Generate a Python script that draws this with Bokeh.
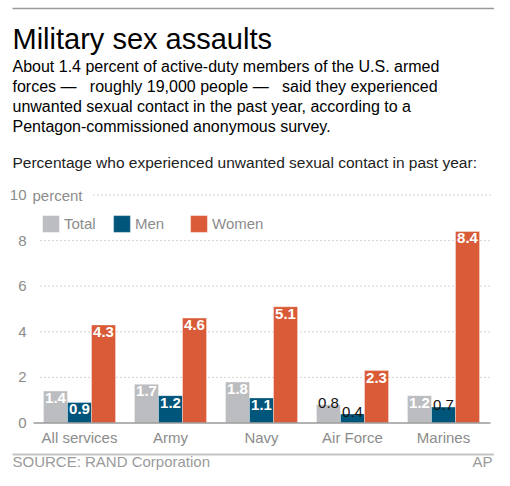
from bokeh.core.properties import value
from bokeh.embed import file_html
from bokeh.models import ColumnDataSource, Label, Legend, LegendItem, Range1d
from bokeh.plotting import figure
from bokeh.resources import INLINE
from bokeh.transform import dodge

# data
services = ["All services", "Army", "Navy", "Air Force", "Marines"]
total = [1.4, 1.7, 1.8, 0.8, 1.2]
men = [0.9, 1.2, 1.1, 0.4, 0.7]
women = [4.3, 4.6, 5.1, 2.3, 8.4]
y_ticks = [0, 2, 4, 6, 8, 10]
y_tick_labels = ["0", "2", "4", "6", "8", "10"]

NB = "\u00a0"
title = "Military sex assaults"
blurb = [
    "About 1.4 percent of active-duty members of the U.S. armed",
    "forces \u2014" + NB * 2 + " roughly 19,000 people \u2014" + NB * 2
    + " said they experienced",
    "unwanted sexual contact in the past year, according to a",
    "Pentagon-commissioned anonymous survey.",
]
subtitle = "Percentage who experienced unwanted sexual contact in past year:"
source_note = "SOURCE: RAND Corporation"

FONT = "Liberation Sans"
GREY_TXT = "#8c8c8c"
W, H = 494, 470

# the frame fills the whole canvas; these fix where the chart sits in it
X0_PX, PX_PER_CAT = 79, 91        # centre of first group, group pitch
Y0_PX, PX_PER_UNIT = 422.5, 22.8  # canvas row of 0 percent (from top), px per point
BAR_W = 0.264
LABEL_NUDGE = 6  # Label draws a little below the asked-for baseline


def cx(px):
    """canvas x pixel -> category units"""
    return (px - X0_PX) / PX_PER_CAT


def cy(px):
    """canvas y pixel (from top) -> percent units"""
    return (Y0_PX - px) / PX_PER_UNIT


def header_y(baseline_px, nudge=LABEL_NUDGE):
    """screen y for a Label whose baseline sits baseline_px from the top"""
    return H - baseline_px + nudge


series = [
    ("Total", total, "#bcbdc0", -BAR_W),
    ("Men", men, "#00557a", 0.0),
    ("Women", women, "#d95b37", BAR_W),
]

p = figure(
    width=W,
    height=H,
    x_range=Range1d(cx(0), cx(W)),
    y_range=Range1d(cy(H), cy(0)),
    output_backend="svg",
    toolbar_location=None,
    min_border=0,
)
p.outline_line_color = None
p.grid.visible = False
p.axis.visible = False

# dotted grid, the top one starts after "10 percent"
grid = ColumnDataSource(dict(
    y=y_ticks[1:],
    x0=[cx(40)] * (len(y_ticks) - 2) + [cx(93)],
    x1=[cx(490)] * (len(y_ticks) - 1),
))
p.segment(x0="x0", x1="x1", y0="y", y1="y", source=grid,
          line_color="#a8a8a8", line_dash="1 3", line_width=1)

renderers = {}
for name, vals, color, off in series:
    src = ColumnDataSource(dict(x=list(range(len(services))), v=vals))
    r = p.vbar(x=dodge("x", off, range=p.x_range), top="v", width=BAR_W,
               source=src, fill_color=color, line_color="white",
               line_alpha=0.35, line_width=1)
    renderers[name] = r
    # values on short bars go above them in black
    inside = ColumnDataSource(dict(
        x=[i for i, v in enumerate(vals) if v >= 0.9],
        v=[v for v in vals if v >= 0.9],
        lab=["%.1f" % v for v in vals if v >= 0.9],
    ))
    p.text(x=dodge("x", off, range=p.x_range), y="v", text="lab", source=inside,
           text_align="center", text_baseline="top", y_offset=2,
           text_color="white", text_font=value(FONT), text_font_size="15px",
           text_font_style="bold")
    above = ColumnDataSource(dict(
        x=[i for i, v in enumerate(vals) if v < 0.9],
        v=[v for v in vals if v < 0.9],
        lab=["%.1f" % v for v in vals if v < 0.9],
    ))
    p.text(x=dodge("x", off, range=p.x_range), y="v", text="lab", source=above,
           text_align="center", text_baseline="alphabetic", y_offset=-2,
           text_color="#111111", text_font=value(FONT), text_font_size="15px")

# baseline
p.segment(x0=[cx(33)], x1=[cx(490)], y0=[0], y1=[0],
          line_color="#9a9a9a", line_width=1.5)

# rules at top and bottom of the graphic
p.segment(x0=[cx(12)], x1=[cx(494)], y0=[cy(8)], y1=[cy(8)],
          line_color="#9a9a9a", line_width=1.5)
p.segment(x0=[cx(12)], x1=[cx(494)], y0=[cy(454)], y1=[cy(454)],
          line_color="#c4c4c4", line_width=2)

# y tick labels
ysrc = ColumnDataSource(dict(y=y_ticks, t=y_tick_labels))
p.text(x=cx(26), y="y", text="t", source=ysrc, text_align="right",
       text_baseline="middle", text_color=GREY_TXT, text_font=value(FONT),
       text_font_size="15px")
p.text(x=[cx(32)], y=[y_ticks[-1]], text=["percent"], text_align="left",
       text_baseline="middle", text_color=GREY_TXT, text_font=value(FONT),
       text_font_size="15px")

# category labels
xsrc = ColumnDataSource(dict(x=list(range(len(services))), t=services))
p.text(x="x", y=0, text="t", source=xsrc, text_align="center",
       text_baseline="top", y_offset=6, text_color=GREY_TXT,
       text_font=value(FONT), text_font_size="15px")

# legend, one block per series so the gaps can differ
for name, lx in [("Total", 40), ("Men", 111), ("Women", 188)]:
    leg = Legend(
        items=[LegendItem(label=name, renderers=[renderers[name]])],
        location=(lx, H - 234),
        orientation="horizontal",
        padding=0, margin=0, spacing=0,
        glyph_width=21, glyph_height=21,
        label_height=21, label_standoff=3,
        label_text_font=FONT, label_text_font_size="15px",
        label_text_color=GREY_TXT,
        border_line_color=None, background_fill_alpha=0,
    )
    p.add_layout(leg)

# headline and blurb
p.add_layout(Label(x=12, y=header_y(45, 7), x_units="screen", y_units="screen",
                   text=title, text_font=FONT, text_font_size="29px",
                   text_color="#000000", text_baseline="alphabetic"))
for k, line in enumerate(blurb):
    p.add_layout(Label(x=12, y=header_y(72 + 20 * k), x_units="screen",
                       y_units="screen", text=line, text_font=FONT,
                       text_font_size="16px", text_color="#000000",
                       text_baseline="alphabetic"))
p.add_layout(Label(x=12, y=header_y(168), x_units="screen", y_units="screen",
                   text=subtitle, text_font=FONT, text_font_size="15.5px",
                   text_color="#222222", text_baseline="alphabetic"))

# footer
p.add_layout(Label(x=12, y=header_y(467), x_units="screen", y_units="screen",
                   text=source_note, text_font=FONT, text_font_size="15px",
                   text_color="#9a9a9a", text_baseline="alphabetic"))
p.add_layout(Label(x=492, y=header_y(467), x_units="screen", y_units="screen",
                   text="AP", text_font=FONT, text_font_size="15px",
                   text_color="#9a9a9a", text_baseline="alphabetic",
                   text_align="right"))

open("out.html", "w").write(file_html(p, INLINE))
